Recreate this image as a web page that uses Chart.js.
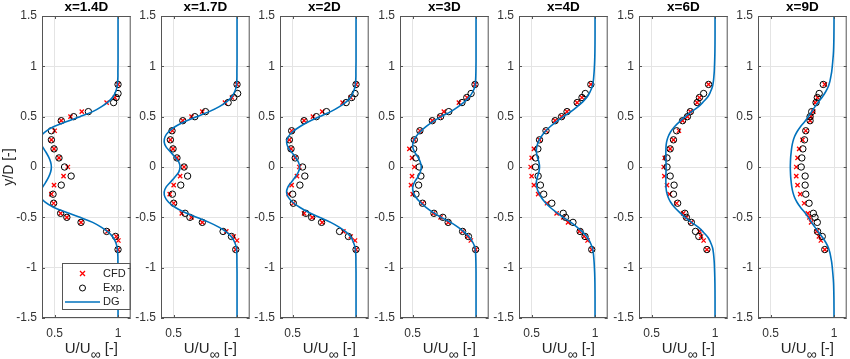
<!DOCTYPE html>
<html>
<head>
<meta charset="utf-8">
<script src="https://cdn.jsdelivr.net/npm/chart.js@4.4.1/dist/chart.umd.min.js"></script>
<style>
  body { margin: 0; background: #fff; }
  #wrap { position: relative; width: 850px; height: 359px; overflow: hidden; }
  #wrap canvas { position: absolute; top: 0; }
</style>
</head>
<body>
<div id="wrap"></div>
<script>
var stations = ['x=1.4D', 'x=1.7D', 'x=2D', 'x=3D', 'x=4D', 'x=6D', 'x=9D'];
var xTicks = [0.5, 1];
var yTicks = [1.5, 1, 0.5, 0, -0.5, -1, -1.5];

// y/D of the measurement and CFD points
var measY = [0.82, 0.73, 0.69, 0.64, 0.55, 0.5, 0.46, 0.36, 0.27, 0.18, 0.09, 0, -0.09, -0.18, -0.27, -0.36, -0.46, -0.5, -0.55, -0.64, -0.69, -0.73, -0.82];

var cfd14 = [1.0, null, 0.975, 0.91, 0.714, 0.625, 0.552, 0.5, 0.474, 0.495, 0.534, 0.604, 0.57, 0.495, 0.474, 0.492, 0.547, 0.596, 0.708, 0.917, 0.987, 1.003, 1.0];
var exp14 = [1.0, 1.0, 0.985, 0.965, 0.766, 0.65, 0.552, 0.474, 0.474, 0.495, 0.534, 0.578, 0.63, 0.552, 0.487, 0.492, 0.547, 0.596, 0.708, 0.91, 0.98, null, 1.0];
var cfd17 = [1.0, null, 0.96, 0.905, 0.726, 0.641, 0.572, 0.49, 0.474, 0.495, 0.526, 0.582, 0.551, 0.5, 0.469, 0.5, 0.564, 0.641, 0.726, 0.915, 0.974, 1.0, 0.99];
var exp17 = [1.0, 1.005, 0.974, 0.93, 0.751, 0.667, 0.572, 0.487, 0.474, 0.495, 0.526, 0.582, 0.61, 0.556, 0.49, 0.5, 0.59, 0.628, 0.726, 0.89, 0.956, null, 0.99];
var cfd2 = [1.0, null, 0.958, 0.894, 0.733, 0.66, 0.59, 0.492, 0.474, 0.487, 0.52, 0.552, 0.534, 0.492, 0.469, 0.505, 0.59, 0.655, 0.733, 0.9, 0.958, 0.992, 1.0];
var exp2 = [1.0, 0.992, 0.966, 0.922, 0.767, 0.687, 0.59, 0.492, 0.474, 0.487, 0.52, 0.578, 0.596, 0.557, 0.5, 0.505, 0.604, 0.65, 0.728, 0.87, 0.94, null, 1.0];
var cfd3 = [0.992, null, 0.93, 0.865, 0.746, 0.715, 0.655, 0.557, 0.513, 0.474, 0.495, 0.513, 0.495, 0.487, 0.5, 0.578, 0.663, 0.72, 0.78, 0.894, 0.933, 0.959, 0.997];
var exp3 = [0.992, 0.961, 0.927, 0.889, 0.785, 0.72, 0.655, 0.557, 0.513, 0.508, 0.526, 0.552, 0.565, 0.547, 0.526, 0.578, 0.668, 0.738, 0.78, 0.894, 0.94, null, 0.997];
var cfd4 = [0.967, null, 0.897, 0.859, 0.779, 0.736, 0.685, 0.613, 0.562, 0.518, 0.5, 0.492, 0.5, 0.518, 0.551, 0.621, 0.697, 0.749, 0.787, 0.877, 0.915, 0.941, 0.974];
var exp4 = [0.967, 0.923, 0.897, 0.859, 0.779, 0.736, 0.685, 0.613, 0.562, 0.549, 0.531, 0.531, 0.551, 0.569, 0.595, 0.659, 0.749, 0.767, 0.826, 0.882, 0.921, null, 0.974];
var cfd6 = [0.949, null, 0.877, 0.859, 0.805, 0.782, 0.744, 0.715, 0.672, 0.646, 0.603, 0.595, 0.6, 0.621, 0.641, 0.697, 0.749, 0.774, 0.813, 0.877, 0.89, 0.91, 0.936];
var exp6 = [0.949, 0.91, 0.877, 0.859, 0.805, 0.782, 0.744, 0.697, 0.672, 0.646, 0.621, 0.621, 0.646, 0.677, 0.672, 0.705, 0.762, 0.774, 0.813, 0.846, 0.872, null, 0.936];
var cfd9 = [0.927, null, 0.87, 0.852, 0.837, 0.819, 0.811, 0.777, 0.751, 0.725, 0.712, 0.702, 0.702, 0.712, 0.733, 0.764, 0.793, 0.806, 0.819, 0.863, 0.881, 0.896, 0.927];
var exp9 = [0.915, 0.883, 0.868, 0.858, 0.824, 0.811, 0.811, 0.777, 0.767, 0.754, 0.746, 0.741, 0.772, 0.772, 0.777, 0.803, 0.837, 0.85, 0.868, 0.87, 0.907, null, 0.927];

// y/D of the DG model curve samples
var dgY = [1.5, 1.3, 1.15, 1.05, 0.95, 0.9, 0.85, 0.8, 0.75, 0.7, 0.65, 0.6, 0.55, 0.5, 0.45, 0.4, 0.35, 0.3, 0.25, 0.2, 0.15, 0.1, 0.05, 0,
  -0.05, -0.1, -0.15, -0.2, -0.25, -0.3, -0.35, -0.4, -0.45, -0.5, -0.55, -0.6, -0.65, -0.7, -0.75, -0.8, -0.85, -0.9, -0.95, -1.05, -1.15, -1.3, -1.5];

var dg14 = [1, 1, 1, 1, 0.999, 0.999, 0.997, 0.993, 0.982, 0.962, 0.925, 0.87, 0.8, 0.7, 0.59, 0.49, 0.425, 0.39, 0.38, 0.405, 0.43, 0.452, 0.468, 0.474,
  0.468, 0.452, 0.43, 0.405, 0.38, 0.39, 0.425, 0.49, 0.59, 0.7, 0.8, 0.87, 0.925, 0.962, 0.982, 0.993, 0.997, 0.999, 0.999, 1, 1, 1, 1];
var dg17 = [1, 1, 1, 1, 0.999, 0.999, 0.998, 0.995, 0.982, 0.96, 0.92, 0.86, 0.78, 0.68, 0.585, 0.51, 0.46, 0.432, 0.425, 0.44, 0.475, 0.51, 0.54, 0.55,
  0.54, 0.51, 0.475, 0.44, 0.425, 0.432, 0.46, 0.51, 0.585, 0.68, 0.78, 0.86, 0.92, 0.96, 0.982, 0.995, 0.998, 0.999, 0.999, 1, 1, 1, 1];
var dg2 = [1, 1, 1, 1, 0.999, 0.999, 0.997, 0.993, 0.98, 0.962, 0.925, 0.87, 0.8, 0.71, 0.625, 0.555, 0.5, 0.465, 0.452, 0.462, 0.49, 0.52, 0.545, 0.555,
  0.545, 0.52, 0.49, 0.462, 0.452, 0.465, 0.5, 0.555, 0.625, 0.71, 0.8, 0.87, 0.925, 0.962, 0.98, 0.993, 0.997, 0.999, 0.999, 1, 1, 1, 1];
var dg3 = [1, 1, 1, 1, 0.999, 0.998, 0.996, 0.992, 0.975, 0.95, 0.91, 0.86, 0.8, 0.725, 0.66, 0.605, 0.56, 0.525, 0.505, 0.5, 0.515, 0.54, 0.56, 0.568,
  0.56, 0.54, 0.515, 0.5, 0.505, 0.525, 0.56, 0.605, 0.66, 0.725, 0.8, 0.86, 0.91, 0.95, 0.975, 0.992, 0.996, 0.998, 0.999, 1, 1, 1, 1];
var dg4 = [1, 1, 0.999, 0.997, 0.993, 0.99, 0.986, 0.978, 0.962, 0.94, 0.905, 0.86, 0.81, 0.75, 0.695, 0.645, 0.605, 0.575, 0.553, 0.54, 0.537, 0.545, 0.557, 0.562,
  0.557, 0.545, 0.537, 0.54, 0.553, 0.575, 0.605, 0.645, 0.695, 0.75, 0.81, 0.86, 0.905, 0.94, 0.962, 0.978, 0.986, 0.99, 0.993, 0.997, 0.999, 1, 1];
var dg6 = [1, 1, 0.999, 0.997, 0.994, 0.991, 0.987, 0.98, 0.965, 0.945, 0.91, 0.87, 0.815, 0.765, 0.72, 0.68, 0.65, 0.63, 0.618, 0.613, 0.612, 0.612, 0.613, 0.614,
  0.613, 0.612, 0.612, 0.613, 0.618, 0.63, 0.65, 0.68, 0.72, 0.765, 0.815, 0.87, 0.91, 0.945, 0.965, 0.98, 0.987, 0.991, 0.994, 0.997, 0.999, 1, 1];
var dg9 = [1, 0.999, 0.996, 0.99, 0.982, 0.975, 0.967, 0.955, 0.935, 0.91, 0.88, 0.85, 0.823, 0.797, 0.768, 0.735, 0.708, 0.688, 0.675, 0.667, 0.662, 0.658, 0.656, 0.655,
  0.656, 0.658, 0.662, 0.667, 0.675, 0.688, 0.708, 0.735, 0.768, 0.797, 0.823, 0.85, 0.88, 0.91, 0.935, 0.955, 0.967, 0.975, 0.982, 0.99, 0.996, 0.999, 1];

var cfdSets = [cfd14, cfd17, cfd2, cfd3, cfd4, cfd6, cfd9];
var expSets = [exp14, exp17, exp2, exp3, exp4, exp6, exp9];
var dgSets = [dg14, dg17, dg2, dg3, dg4, dg6, dg9];

// layout of the panels on the page
var panelLeft = [42, 161, 280, 400, 519, 639, 758];
var plotW = 90;
var plotTop = 16;
var xAxisH = 41;
var fontFam = '"Liberation Sans", Arial, sans-serif';
var red = '#ff0000';
var blue = '#0072bd';

function pairs(xs, ys) {
  var out = [];
  for (var i = 0; i < xs.length; i++) {
    if (xs[i] !== null) out.push({ x: xs[i], y: ys[i] });
  }
  return out;
}

var panelPlugin = {
  id: 'panelDecor',
  afterDraw: function(chart, args, opts) {
    var ctx = chart.ctx;
    var a = chart.chartArea;
    var sx = chart.scales.x, sy = chart.scales.y;
    ctx.save();

    // legend (first panel only), drawn over the data like matlab does
    if (opts.legend) {
      var lx = 62, ly = 263, lw = a.right - lx, lh = 47;
      ctx.fillStyle = '#fff';
      ctx.fillRect(lx, ly, lw, lh);
      ctx.strokeStyle = '#555';
      ctx.lineWidth = 1;
      ctx.strokeRect(lx + 0.5, ly + 0.5, lw - 1, lh - 1);
      ctx.font = '11px ' + fontFam;
      ctx.fillStyle = '#222';
      ctx.textBaseline = 'middle';
      ctx.textAlign = 'left';
      // CFD
      ctx.strokeStyle = red; ctx.lineWidth = 1.3;
      ctx.beginPath();
      ctx.moveTo(80, 271); ctx.lineTo(85, 276);
      ctx.moveTo(85, 271); ctx.lineTo(80, 276);
      ctx.stroke();
      ctx.fillText('CFD', 103, 274);
      // Exp.
      ctx.strokeStyle = '#000'; ctx.lineWidth = 1;
      ctx.beginPath();
      ctx.arc(82.5, 288, 3, 0, Math.PI * 2);
      ctx.stroke();
      ctx.fillText('Exp.', 103, 288);
      // DG
      ctx.strokeStyle = blue; ctx.lineWidth = 1.6;
      ctx.beginPath();
      ctx.moveTo(65, 302); ctx.lineTo(100, 302);
      ctx.stroke();
      ctx.fillText('DG', 103, 302);
    }

    // box and inward ticks
    ctx.strokeStyle = '#555';
    ctx.lineWidth = 1;
    ctx.strokeRect(a.left + 0.5, a.top + 0.5, a.right - a.left - 1, a.bottom - a.top - 1);
    ctx.beginPath();
    yTicks.forEach(function(v) {
      var py = Math.round(sy.getPixelForValue(v)) + 0.5;
      ctx.moveTo(a.left, py); ctx.lineTo(a.left + 3, py);
      ctx.moveTo(a.right, py); ctx.lineTo(a.right - 3, py);
    });
    xTicks.forEach(function(v) {
      var px = Math.round(sx.getPixelForValue(v)) + 0.5;
      ctx.moveTo(px, a.bottom); ctx.lineTo(px, a.bottom - 3);
      ctx.moveTo(px, a.top); ctx.lineTo(px, a.top + 3);
    });
    ctx.stroke();

    // panel title
    var cx = (a.left + a.right) / 2;
    ctx.fillStyle = '#000';
    ctx.textAlign = 'center';
    ctx.textBaseline = 'alphabetic';
    ctx.font = 'bold 13.5px ' + fontFam;
    ctx.fillText(opts.title, cx, 10.5);

    // x label U/U∞ [-] with subscript
    ctx.fillStyle = '#262626';
    ctx.textAlign = 'left';
    var big = '15px ' + fontFam, small = '14px ' + fontFam;
    ctx.font = big;
    var w1 = ctx.measureText('U/U').width;
    var w3 = ctx.measureText(' [-]').width;
    ctx.font = small;
    var w2 = ctx.measureText('\u221e').width;
    var x0 = cx - (w1 + w2 + w3) / 2 + 5;
    ctx.font = big;
    ctx.fillText('U/U', x0, 353);
    ctx.fillText(' [-]', x0 + w1 + w2, 353);
    ctx.font = small;
    ctx.fillText('\u221e', x0 + w1, 359);

    // y label on the first panel
    if (opts.yLabel) {
      ctx.save();
      ctx.translate(9, (a.top + a.bottom) / 2);
      ctx.rotate(-Math.PI / 2);
      ctx.textAlign = 'center';
      ctx.textBaseline = 'middle';
      ctx.font = '14px ' + fontFam;
      ctx.fillText(opts.yLabel, 0, 0);
      ctx.restore();
    }
    ctx.restore();
  }
};

function makePanel(i) {
  var axisW = i === 0 ? panelLeft[0] : 36;
  var rightPad = 4;
  var canvas = document.createElement('canvas');
  var w = axisW + plotW + rightPad;
  canvas.width = w;
  canvas.height = 359;
  canvas.style.left = (panelLeft[i] - axisW) + 'px';
  canvas.style.width = w + 'px';
  canvas.style.height = '359px';
  document.getElementById('wrap').appendChild(canvas);

  var tickFont = { family: fontFam, size: 12 };

  new Chart(canvas.getContext('2d'), {
    type: 'scatter',
    data: {
      datasets: [
        {
          label: 'CFD',
          data: pairs(cfdSets[i], measY),
          pointStyle: 'crossRot',
          pointRadius: 3,
          pointBorderWidth: 1.3,
          borderColor: red,
          backgroundColor: red,
          order: 3
        },
        {
          label: 'Exp.',
          data: pairs(expSets[i], measY),
          pointStyle: 'circle',
          pointRadius: 3.2,
          pointBorderWidth: 1,
          borderColor: '#000',
          backgroundColor: 'rgba(0,0,0,0)',
          order: 2
        },
        {
          label: 'DG',
          data: pairs(dgSets[i], dgY),
          showLine: true,
          pointRadius: 0,
          borderColor: blue,
          borderWidth: 1.6,
          tension: 0.35,
          order: 1
        }
      ]
    },
    options: {
      responsive: false,
      animation: false,
      layout: { padding: { top: plotTop, right: rightPad, left: 0, bottom: 0 } },
      scales: {
        x: {
          type: 'linear',
          min: 0.4,
          max: 1.1,
          afterBuildTicks: function(scale) {
            scale.ticks = xTicks.map(function(v) { return { value: v }; });
          },
          afterFit: function(scale) { scale.height = xAxisH; },
          grid: { color: '#e4e4e4', drawTicks: false },
          border: { display: false },
          ticks: {
            padding: 8,
            color: '#333',
            font: tickFont,
            maxRotation: 0,
            callback: function(v) { return String(v); }
          }
        },
        y: {
          type: 'linear',
          min: -1.5,
          max: 1.5,
          afterBuildTicks: function(scale) {
            scale.ticks = yTicks.map(function(v) { return { value: v }; });
          },
          afterFit: function(scale) { scale.width = axisW; },
          grid: { color: '#e4e4e4', drawTicks: false },
          border: { display: false },
          ticks: {
            padding: 5,
            color: '#333',
            font: tickFont,
            callback: function(v) { return String(v); }
          }
        }
      },
      plugins: {
        legend: { display: false },
        tooltip: { enabled: false },
        panelDecor: {
          title: stations[i],
          legend: i === 0,
          yLabel: i === 0 ? 'y/D [-]' : null
        }
      }
    },
    plugins: [panelPlugin]
  });
}

for (var i = 0; i < stations.length; i++) {
  makePanel(i);
}
</script>
</body>
</html>
